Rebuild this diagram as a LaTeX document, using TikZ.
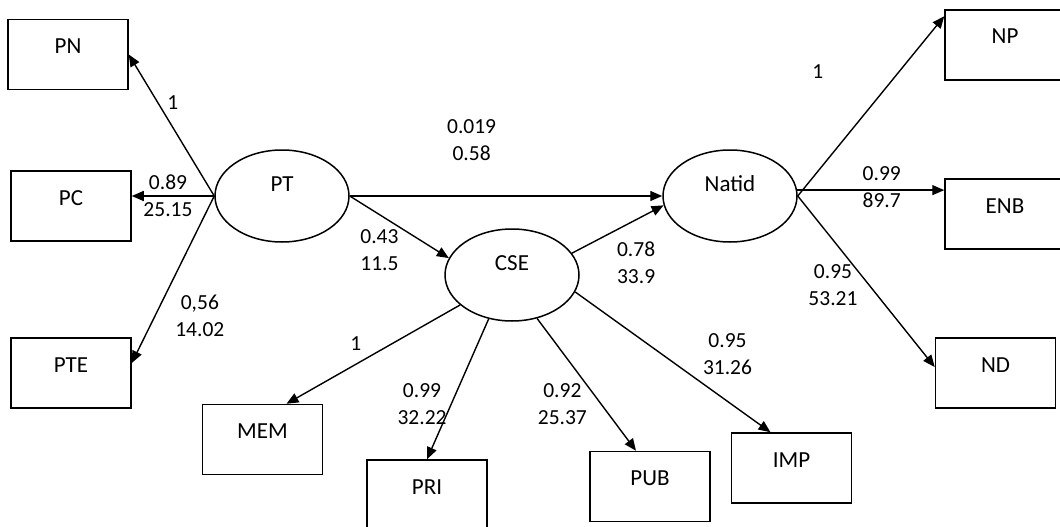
\documentclass[tikz,border=0pt]{standalone}
\usepackage{fontspec}
\setmainfont{Carlito}
\usetikzlibrary{arrows.meta,shapes.geometric}

\begin{document}
\begin{tikzpicture}[x=1pt,y=-1pt,>={Triangle[length=12pt,width=10pt]},line width=1.4pt,
ind/.style={draw,rectangle,line width=1.5pt,minimum width=120pt,minimum height=70pt,inner sep=0pt,
  text height=15pt,text depth=17pt,font=\fontsize{23}{27}\selectfont},
lat/.style={draw,ellipse,line width=1.5pt,minimum width=134pt,minimum height=92pt,inner sep=0pt,
  text height=15pt,text depth=24pt,font=\fontsize{23}{27}\selectfont},
w/.style={align=center,inner sep=0pt,font=\fontsize{21.5}{27}\selectfont}]
\useasboundingbox (0,0) rectangle (1060,527);
\clip (0,0) rectangle (1060,527);
% indicators
\node[ind] (pn) at (68,54.5) {PN};
\node[ind] (pc) at (71,206) {PC};
\node[ind] (pte) at (71,373) {PTE};
\node[ind] (mem) at (262.5,439.5) {MEM};
\node[ind] (pri) at (427,495) {PRI};
\node[ind] (pub) at (650,486.5) {PUB};
\node[ind] (imp) at (791.5,468) {IMP};
\node[ind] (np) at (1005,45) {NP};
\node[ind] (enb) at (1005,214) {ENB};
\node[ind] (nd) at (995.5,373) {ND};
% latent variables
\node[lat] (pt) at (282,196) {PT};
\node[lat] (cse) at (512,275) {CSE};
\node[lat] (natid) at (730,196) {Natid};
% PT loadings
\draw[->] (pt.west) -- node[w,pos=0.66,shift={(15,0)}] (wpn) {1} (pn.east);
\draw[->] (pt.west) -- node[w,midway,shift={(-5,0)}] (wpc) {0.89\\25.15} (pt.west -| pc.east);
\draw[->] (pt.west) -- node[w,pos=0.72,shift={(45,0)}] (wpte) {0,56\\14.02} ([yshift=10pt]pte.east);
% structural paths
\draw[->] (pt.east) -- node[w,pos=0.39,shift={(0,-56)}] (wnat) {0.019\\0.58} (natid.west);
\draw[->] (pt.east) -- node[w,pos=0.3,shift={(0,35.5)}] (wcse) {0.43\\11.5} (cse.165);
\draw[->] (cse.20) -- node[w,pos=0.7,shift={(0,43.5)}] (wcn) {0.78\\33.9} (natid.188);
% CSE loadings
\draw[->] (cse.210) -- node[w,pos=0.6,shift={(0,-20.5)}] (wmem) {1} ([xshift=24pt]mem.north);
\draw[->] (cse.242) -- node[w,pos=0.61,shift={(-29,0)}] (wpri) {0.99\\32.22} (pri.north);
\draw[->] (cse.300) -- node[w,pos=0.65,shift={(-39,0)}] (wpub) {0.92\\25.37} ([xshift=-14pt]pub.north);
\draw[->] (cse.345) -- node[w,pos=0.78,shift={(0,-47)}] (wimp) {0.95\\31.26} ([xshift=-21pt]imp.north);
% Natid loadings
\draw[->] (natid.east) -- node[w,pos=0.69,shift={(-81,0)}] (wnp) {1} ([yshift=-7pt]np.north west);
\draw[->] (natid.5) -- node[w,midway,shift={(11,-3)}] (wenb) {0.99\\89.7} (natid.5 -| enb.west);
\draw[->] (natid.east) -- node[w,pos=0.52,shift={(-36,0)}] (wnd) {0.95\\53.21} ([yshift=6pt]nd.west);
\end{tikzpicture}
\end{document}
